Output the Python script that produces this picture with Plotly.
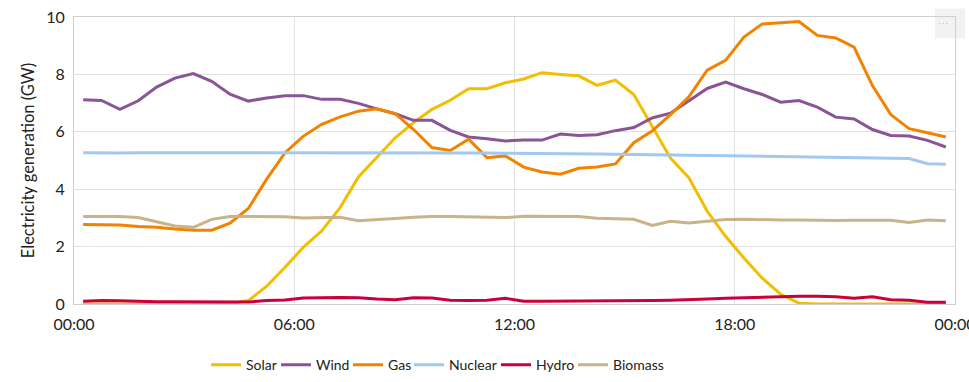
import plotly.graph_objects as go
from datetime import datetime, timedelta

# Half-hourly settlement points (centre of each period)
times = [datetime(2024, 1, 1, 0, 15) + timedelta(minutes=30 * i) for i in range(48)]

solar = [0, 0, 0, 0, 0, 0, 0, 0, 0.01, 0.12, 0.62, 1.28, 1.98,
         2.55, 3.36, 4.43, 5.10, 5.79, 6.32, 6.78, 7.10, 7.50, 7.50, 7.71, 7.84, 8.06, 8.00, 7.95, 7.62, 7.80, 7.30,
         6.20, 5.08, 4.40, 3.23, 2.36, 1.60, 0.90, 0.34, 0.03, 0, 0, 0, 0, 0, 0, 0, 0]
wind = [7.12, 7.09, 6.78, 7.08, 7.56, 7.87, 8.03, 7.76, 7.31, 7.07, 7.18, 7.26, 7.26,
        7.13, 7.13, 6.99, 6.80, 6.63, 6.40, 6.40, 6.05, 5.82, 5.76, 5.68, 5.71, 5.71, 5.92, 5.87, 5.90, 6.04, 6.15,
        6.48, 6.65, 7.07, 7.51, 7.73, 7.50, 7.30, 7.03, 7.09, 6.86, 6.51, 6.45, 6.08, 5.87, 5.85, 5.70, 5.47]
gas = [2.77, 2.77, 2.75, 2.70, 2.67, 2.61, 2.57, 2.57, 2.82, 3.33, 4.35, 5.27, 5.85,
       6.26, 6.52, 6.72, 6.80, 6.63, 6.08, 5.45, 5.35, 5.74, 5.10, 5.16, 4.77, 4.60, 4.52, 4.73, 4.77, 4.88, 5.62,
       6.03, 6.60, 7.22, 8.15, 8.49, 9.30, 9.76, 9.81, 9.84, 9.36, 9.27, 8.95, 7.61, 6.60, 6.11, 5.97, 5.82]
nuclear = [5.27, 5.26, 5.26, 5.27, 5.27, 5.26, 5.26, 5.26, 5.27, 5.27, 5.27, 5.28, 5.28,
           5.28, 5.28, 5.28, 5.28, 5.27, 5.27, 5.27, 5.26, 5.26, 5.26, 5.25, 5.25, 5.24, 5.24, 5.23, 5.23, 5.22, 5.21,
           5.20, 5.19, 5.19, 5.18, 5.17, 5.16, 5.15, 5.14, 5.13, 5.12, 5.11, 5.10, 5.09, 5.08, 5.07, 4.89, 4.87]
hydro = [0.10, 0.12, 0.11, 0.09, 0.08, 0.08, 0.08, 0.08, 0.08, 0.07, 0.12, 0.14, 0.21,
         0.23, 0.23, 0.22, 0.17, 0.15, 0.22, 0.21, 0.13, 0.12, 0.13, 0.20, 0.10, 0.10, 0.10, 0.11, 0.11, 0.11, 0.12,
         0.12, 0.13, 0.14, 0.17, 0.20, 0.22, 0.23, 0.27, 0.27, 0.27, 0.25, 0.20, 0.25, 0.15, 0.13, 0.06, 0.06]
biomass = [3.05, 3.05, 3.05, 3.01, 2.86, 2.72, 2.67, 2.95, 3.05, 3.05, 3.05, 3.04, 3.00,
           3.01, 3.02, 2.90, 2.93, 2.98, 3.02, 3.05, 3.05, 3.04, 3.04, 3.01, 3.06, 3.06, 3.06, 3.05, 2.99, 2.98, 2.95,
           2.74, 2.88, 2.82, 2.88, 2.94, 2.95, 2.93, 2.93, 2.93, 2.91, 2.91, 2.92, 2.92, 2.92, 2.84, 2.93, 2.90]

series_names = ["Solar", "Wind", "Gas", "Nuclear", "Hydro", "Biomass"]
series_values = [solar, wind, gas, nuclear, hydro, biomass]
series_colors = ["#F2BE00", "#8A5596", "#F28300", "#A0C8F0", "#C8003C", "#C8B48A"]
legend_widths = [25, 27, 16, 42, 32, 52]

y_tick_vals = [0, 2, 4, 6, 8, 10]
x_tick_labels = ["00:00", "06:00", "12:00", "18:00", "00:00"]
x_tick_vals = [datetime(2024, 1, 1) + timedelta(hours=6 * i) for i in range(5)]

fig = go.Figure()
for name, vals, col, lw in zip(series_names, series_values, series_colors, legend_widths):
    fig.add_trace(go.Scatter(x=times, y=vals, name=name, mode="lines",
                             line=dict(color=col, width=3), legendwidth=lw))

FONT = "Lato, 'Open Sans', sans-serif"
fig.update_layout(
    width=969, height=382,
    margin=dict(l=74, r=14, t=17, b=77.5, autoexpand=False),
    paper_bgcolor="white", plot_bgcolor="rgba(0,0,0,0)",
    font=dict(family=FONT, size=14, color="#222"),
    showlegend=True,
    legend=dict(orientation="h", x=(206 - 74) / 881, xanchor="left", y=-0.213, yanchor="middle",
                font=dict(size=14, color="#222"), itemwidth=30, traceorder="normal"),
    xaxis=dict(range=[datetime(2024, 1, 1), datetime(2024, 1, 2)],
               tickvals=x_tick_vals, ticktext=x_tick_labels,
               showgrid=True, gridcolor="#e2e2e2", gridwidth=1,
               showline=True, linecolor="#cfcfcf", linewidth=1, mirror=True,
               ticks="", tickfont=dict(size=16, color="#222"), ticklabelstandoff=6,
               ticklabeloverflow="allow", automargin=False, zeroline=False),
    yaxis=dict(range=[0, 10], tickvals=y_tick_vals,
               showgrid=True, gridcolor="#e2e2e2", gridwidth=1,
               showline=True, linecolor="#cfcfcf", linewidth=1, mirror=True,
               ticks="", tickfont=dict(size=16, color="#222"), ticklabelstandoff=5,
               title=dict(text="Electricity generation (GW)", font=dict(size=16.5, color="#222"), standoff=7),
               automargin=False, zeroline=False),
)

# menu button (top-right)
fig.add_shape(type="rect", xref="paper", yref="paper",
              x0=(935 - 74) / 881, x1=(965 - 74) / 881,
              y0=(304.5 - 38.5) / 287.5, y1=(304.5 - 8.5) / 287.5,
              fillcolor="#f2f2f2", line=dict(width=0), layer="below")
fig.add_annotation(xref="paper", yref="paper", x=(950.5 - 74) / 881, y=(304.5 - 29) / 287.5,
                   yanchor="bottom", text="...", showarrow=False,
                   font=dict(size=11, color="#a8d0ec", family="DejaVu Sans"))

fig.write_html("out.html", config={"displayModeBar": False},
               post_script="document.body.style.margin='0';document.body.style.overflow='hidden';")
